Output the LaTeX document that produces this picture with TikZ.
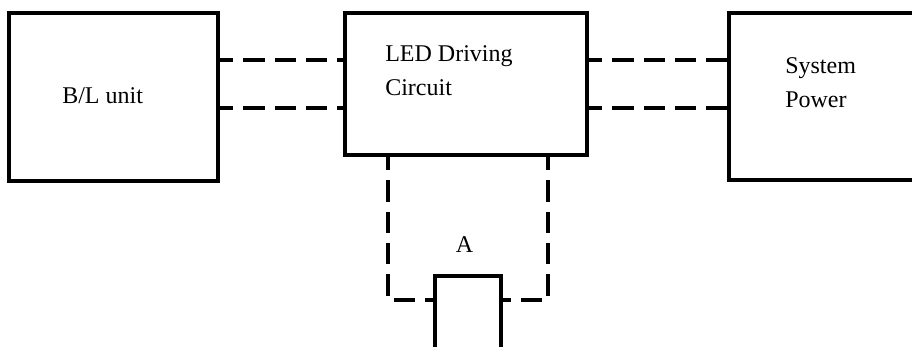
\documentclass[tikz,border=0pt]{standalone}
\usepackage{fontspec}
\setmainfont{Liberation Serif}
\usetikzlibrary{positioning,calc}

\begin{document}
\begin{tikzpicture}[x=0.75pt, y=-0.75pt,
  box/.style={draw, line width=2.3pt, inner sep=0pt, outer sep=0pt, fill=white},
  link/.style={line width=2.3pt, dash pattern=on 16pt off 7.5pt, dash phase=4.5pt},
  lbl/.style={inner sep=0pt, align=left, font=\fontsize{18}{25}\selectfont}]
  \clip (0,0) rectangle (912,346);
  % blocks
  \node[box, minimum width=156.75pt, minimum height=126pt] (bl) at (113.5,97) {};
  \node[box, minimum width=181.5pt, minimum height=106.5pt] (led) at (466,84) {};
  \node[box, minimum width=165.75pt, minimum height=125.25pt] (sys) at (839.5,96.5) {};
  \node[box, minimum width=49.5pt, minimum height=63pt] (a) at (468,318) {};
  % labels
  \node[lbl, anchor=base west] (bltext) at (62,103) {B/L unit};
  \node[lbl, anchor=base west] (ledtext) at (385,95) {LED Driving\\Circuit};
  \node[lbl, anchor=base west] (systext) at (785,107) {System\\Power};
  \node[lbl, anchor=base] (atext) at (464.5,252) {A};
  % dashed links
  \draw[link] (bl.east |- 0,60) -- (led.west |- 0,60);
  \draw[link] (bl.east |- 0,108) -- (led.west |- 0,108);
  \draw[link] (led.east |- 0,60) -- (sys.west |- 0,60);
  \draw[link] (led.east |- 0,108) -- (sys.west |- 0,108);
  \draw[link] ($(led.south west)+(43,0)$) |- (a.west |- 0,300);
  \draw[link] ($(led.south east)+(-39,0)$) |- (a.east |- 0,300);
\end{tikzpicture}
\end{document}
